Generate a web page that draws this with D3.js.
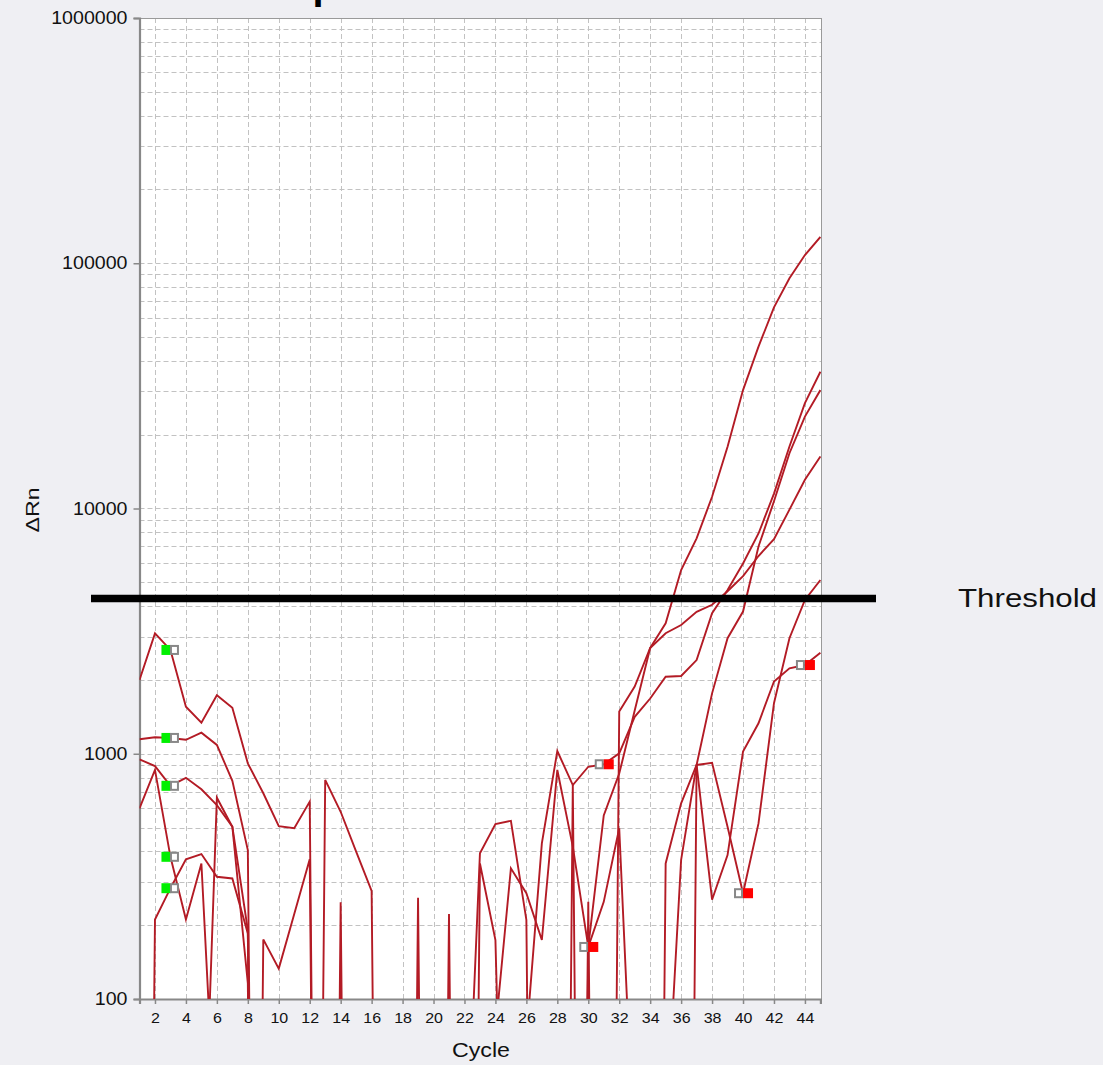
<!DOCTYPE html>
<html><head><meta charset="utf-8">
<script src="https://cdn.jsdelivr.net/npm/d3@7"></script>
<style>html,body{margin:0;padding:0;background:#efeff3;} svg{display:block;font-family:"Liberation Sans",Arial,Helvetica,sans-serif;}</style>
</head><body><svg id="c" width="1103" height="1065"></svg>
<script>
// ---- data ----
const cycles = d3.range(1, 46);
const seriesA = [2000,3097,2650,1556,1338,1731,1541,914,690,507,497,638,0,0,0,0,0,0,0,0,0,0,0,0,0,0,0,0,0,0,0,1488,1880,2700,3405,5613,7560,11170,17870,30400,45700,66100,86900,108000,128000];
const seriesB = [1146,1167,1160,1140,1219,1086,776,405,0,0,0,0,782,580,399,276,0,0,0,0,0,0,0,0,0,69,431,1026,745,885,906,1004,1415,1680,2060,2075,2410,3740,4650,5970,7910,11500,17900,26900,36100];
const seriesC = [949,891,740,798,716,617,504,191,0,0,0,0,0,248,0,0,0,0,0,0,0,13,393,517,533,210,0,0,745,0,0,0,0,0,0,0,900,1763,2960,3800,7000,10700,16800,23700,30400];
const seriesD = [599,859,380,211,357,21,0,0,175,133,222,371,0,0,0,0,0,0,0,0,0,0,0,74,341,270,174,859,418,163,560,830,1500,2700,3100,3350,3790,4050,4600,5300,6400,7500,9900,13100,16300];
const seriesE = [0,211,283,371,390,315,310,185,0,0,0,0,0,0,0,0,0,0,259,0,0,0,357,174,0.7,0,0,0,0,249,0,0,0,0,357,628,900,918,504,270,520,1607,2960,4240,5110];
const seriesF = [0,0,0,0,10,662,504,116,0,0,0,0,0,0,0,0,0,0,0,0,222,0,0,0,0,0,0,0,0,163,249,497,20,0,27,369,900,254,386,1020,1331,1970,2230,2300,2583];
const seriesList = [seriesA, seriesB, seriesC, seriesD, seriesE, seriesF];
const startCycle = [3,3,3,3,3,3];
const endCycle = [30,31,35,30,40,44];
const xTicks = d3.range(2, 45, 2);
const yTicks = [100, 1000, 10000, 100000, 1000000];
const threshold = 4300;
const title = "Amplification Plot";
const xLabel = "Cycle";
const yLabel = "\u0394Rn";
const thresholdLabel = "Threshold";

// ---- layout ----
const L = 139.5, R = 821, T = 18, B = 999;
const svg = d3.select("#c");
const x = d3.scaleLinear().domain([1, 45]).range([L, R - 0.6]);
const y = d3.scaleLog().domain([100, 1e6]).range([B, T]);
const FLOOR = 1e-4;
const yv = v => y(Math.max(v, FLOOR));

svg.append("defs").append("clipPath").attr("id", "clip")
  .append("rect").attr("x", L).attr("y", T).attr("width", R - L).attr("height", B - T);

svg.append("rect").attr("x", L).attr("y", T).attr("width", R - L).attr("height", B - T).attr("fill", "#fff");

// grid
const minor = [];
for (let e = 2; e < 6; e++) for (let m = 1; m < 10; m++) minor.push(m * Math.pow(10, e));
svg.append("g").selectAll("line").data(minor.filter(v => v > 100)).join("line")
  .attr("x1", L).attr("x2", R).attr("y1", d => Math.round(y(d)) + 0.5).attr("y2", d => Math.round(y(d)) + 0.5)
  .attr("stroke", "#c2c2c2").attr("stroke-width", 1).attr("stroke-dasharray", "5,3");
svg.append("g").selectAll("line").data(xTicks).join("line")
  .attr("x1", d => Math.round(x(d)) + 0.5).attr("x2", d => Math.round(x(d)) + 0.5).attr("y1", T).attr("y2", B)
  .attr("stroke", "#c2c2c2").attr("stroke-width", 1).attr("stroke-dasharray", "5,3");

// frame
svg.append("line").attr("x1", L).attr("x2", R).attr("y1", T + 0.5).attr("y2", T + 0.5).attr("stroke", "#9a9a9a").attr("stroke-width", 1);
svg.append("line").attr("x1", R + 0.5).attr("x2", R + 0.5).attr("y1", T).attr("y2", B).attr("stroke", "#9a9a9a").attr("stroke-width", 1);

// axes
const yAxis = d3.axisLeft(y).tickValues(yTicks).tickFormat(d3.format("d")).tickSize(6).tickPadding(6);
const gy = svg.append("g").attr("transform", `translate(${L},0)`).call(yAxis);
gy.select(".domain").attr("stroke", "#888").attr("stroke-width", 2.2);
gy.selectAll(".tick line").attr("stroke", "#888").attr("stroke-width", 1.5);
gy.selectAll(".tick text").attr("font-size", 17.5).attr("fill", "#111")
  .attr("font-family", "'Liberation Sans', Arial, sans-serif")
  .attr("textLength", d => String(d).length * 10.9).attr("lengthAdjust", "spacingAndGlyphs");

const xAxis = d3.axisBottom(x).tickValues(xTicks).tickSize(5).tickPadding(8);
const gx = svg.append("g").attr("transform", `translate(0,${B})`).call(xAxis);
gx.select(".domain").attr("stroke", "#888").attr("stroke-width", 2.2);
gx.selectAll(".tick line").attr("stroke", "#888").attr("stroke-width", 1.5);
gx.selectAll(".tick text").attr("font-size", 15).attr("fill", "#111")
  .attr("font-family", "'Liberation Sans', Arial, sans-serif")
  .attr("textLength", d => String(d).length * 8.9).attr("lengthAdjust", "spacingAndGlyphs");

// curves
const line = d3.line().x((d, i) => x(cycles[i])).y(d => yv(d));
const gl = svg.append("g").attr("clip-path", "url(#clip)");
gl.selectAll("path").data(seriesList).join("path")
  .attr("d", d => line(d)).attr("fill", "none").attr("stroke", "#b31b25").attr("stroke-width", 1.9)
  .attr("stroke-linejoin", "miter");

// baseline markers
const gm = svg.append("g").attr("clip-path", "url(#clip)");
seriesList.forEach((s, i) => {
  const cs = startCycle[i], ce = endCycle[i];
  const xs = x(cs), ys = yv(s[cs - 1]);
  gm.append("rect").attr("x", xs - 9).attr("y", ys - 5).attr("width", 9).attr("height", 10).attr("fill", "#00f000");
  gm.append("rect").attr("x", xs + 0.5).attr("y", ys - 4).attr("width", 7).attr("height", 8).attr("fill", "#fff").attr("stroke", "#888").attr("stroke-width", 2);
  const xe = x(ce), ye = yv(s[ce - 1]);
  gm.append("rect").attr("x", xe - 8).attr("y", ye - 4).attr("width", 7).attr("height", 8).attr("fill", "#fff").attr("stroke", "#888").attr("stroke-width", 2);
  gm.append("rect").attr("x", xe).attr("y", ye - 5).attr("width", 10).attr("height", 10).attr("fill", "#ff0000");
});

// threshold
svg.append("line").attr("x1", 91).attr("x2", 876).attr("y1", y(threshold)).attr("y2", y(threshold))
  .attr("stroke", "#000").attr("stroke-width", 7.5);
svg.append("text").attr("x", 958).attr("y", y(threshold)).attr("dy", "0.35em")
  .attr("font-size", 25).attr("fill", "#111").attr("textLength", 139).attr("lengthAdjust", "spacingAndGlyphs")
  .text(thresholdLabel);

// labels
svg.append("text").attr("x", 481).attr("y", 1057).attr("text-anchor", "middle").attr("font-size", 19.5)
  .attr("fill", "#111").attr("textLength", 58).attr("lengthAdjust", "spacingAndGlyphs").text(xLabel);
svg.append("text").attr("transform", "translate(39,510) rotate(-90)").attr("text-anchor", "middle")
  .attr("font-size", 19).attr("fill", "#111").attr("textLength", 45).attr("lengthAdjust", "spacingAndGlyphs").text(yLabel);
svg.append("text").attr("x", 248).attr("y", -1).attr("font-size", 40).attr("font-weight", "bold")
  .attr("fill", "#000").text(title);
</script></body></html>
